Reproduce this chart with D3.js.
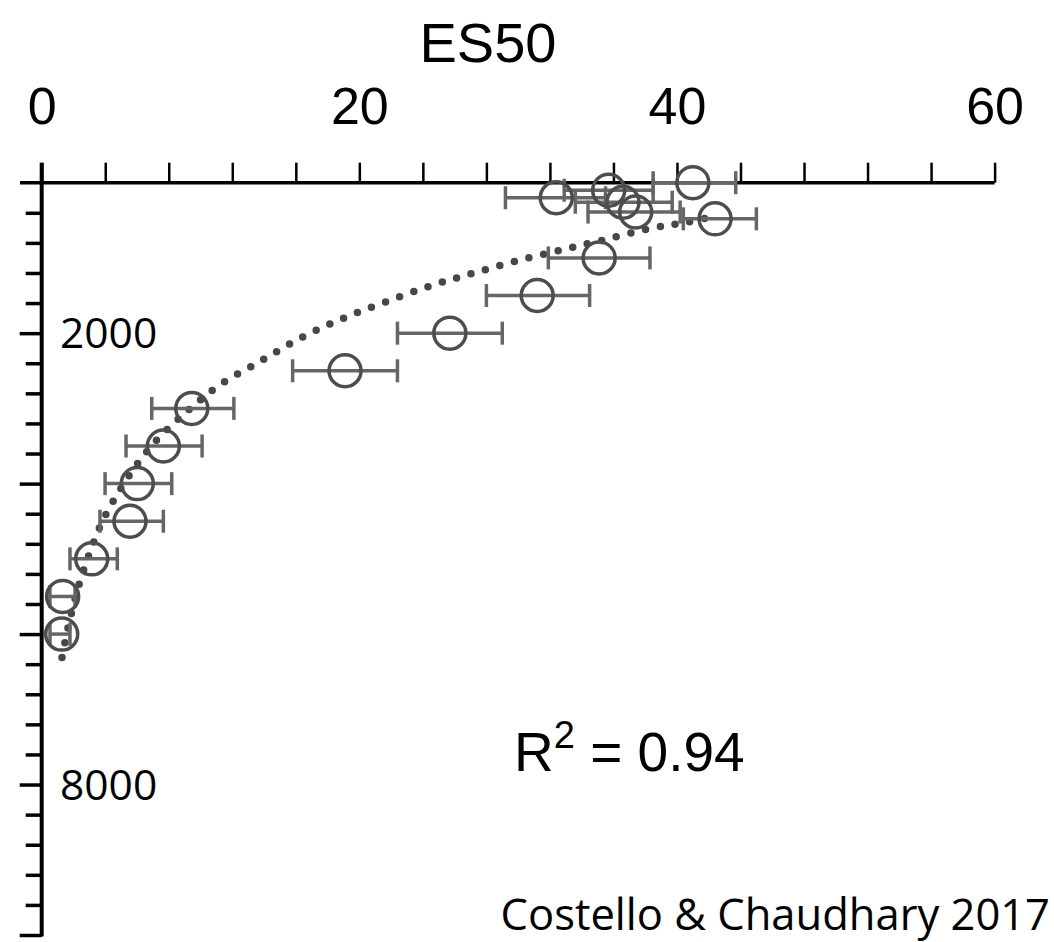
<!DOCTYPE html>
<html lang="en">
<head>
    <meta charset="UTF-8">
    <title>ES50 depth</title>
    <script src="https://d3js.org/d3.v7.min.js"></script>
    <style>
        body { margin: 0; background: #fff; }
    </style>
</head>
<body>
<script>
    const width = 1054
    const height = 942

    // ES50 per depth bin, with error bar ends
    const depth = [0, 100, 200, 260, 390, 480, 1000, 1500, 2000, 2500, 3000, 3500, 4000, 4500, 5000, 5500, 6000]
    const es50 = [41.0, 35.7, 32.4, 36.6, 37.4, 42.4, 35.1, 31.2, 25.7, 19.1, 9.45, 7.66, 6.02, 5.56, 3.15, 1.32, 1.26]
    const es50Low = [38.5, 32.9, 29.2, 33.6, 34.4, 40.4, 31.9, 28.0, 22.4, 15.8, 6.93, 5.31, 3.99, 3.67, 1.78, 0.52, 0.52]
    const es50High = [43.7, 38.5, 35.5, 39.7, 40.2, 45.0, 38.3, 34.5, 29.0, 22.4, 12.1, 10.1, 8.19, 7.66, 4.76, 2.10, 1.78]

    // fitted trend (dotted)
    const fitES50 = [1.28, 1.66, 2.41, 3.04, 3.80, 4.74, 5.88, 7.07, 8.46, 9.59, 11.2, 13.8, 16.3, 18.9, 21.6, 24.5, 27.2, 30.1, 33.0, 35.6, 38.5, 40.4, 42.2]
    const fitDepth = [6310, 5910, 5300, 4910, 4510, 4150, 3780, 3460, 3170, 2960, 2690, 2370, 2065, 1810, 1590, 1370, 1200, 1030, 880, 750, 600, 535, 455]

    const xLabels = [0, 20, 40, 60]
    const yLabels = [2000, 8000]

    var svg = d3.select("body")
        .append("svg")
        .attr("width", width)
        .attr("height", height)

    var xScale = d3.scaleLinear()
        .domain([0, 60])
        .range([41.7, 994.6])
    var yScale = d3.scaleLinear()
        .domain([0, 10000])
        .range([182.7, 935])

    // x axis on top
    var xAxis = d3.axisTop(xScale)
        .tickValues(d3.range(0, 61, 4))
        .tickSize(20)
        .tickPadding(39)
        .tickFormat(d => xLabels.includes(d) ? d : "")
    var gx = svg.append("g")
        .attr("transform", "translate(0," + yScale(0) + ")")
        .call(xAxis)
    gx.select(".domain").remove()
    gx.selectAll("line").attr("stroke", "#000").attr("stroke-width", 2.5)
    gx.selectAll("text")
        .attr("font-family", "Liberation Sans, Arial, sans-serif")
        .attr("font-size", 52)
        .attr("fill", "#000")
    svg.append("line")
        .attr("x1", 20).attr("x2", xScale(60))
        .attr("y1", yScale(0)).attr("y2", yScale(0))
        .attr("stroke", "#000").attr("stroke-width", 3.5)

    svg.append("text")
        .text("ES50")
        .attr("x", 488)
        .attr("y", 62)
        .attr("text-anchor", "middle")
        .attr("font-family", "Liberation Sans, Arial, sans-serif")
        .attr("font-size", 56)

    // y axis on left, depth increasing down
    var yAxis = d3.axisLeft(yScale)
        .tickValues(d3.range(400, 10001, 400))
        .tickSize(16)
        .tickFormat("")
    var gy = svg.append("g")
        .attr("transform", "translate(" + xScale(0) + ",0)")
        .call(yAxis)
    gy.select(".domain").remove()
    gy.selectAll(".tick line")
        .attr("stroke", "#000")
        .attr("stroke-width", 3.5)
        .attr("x2", d => d % 2000 === 0 ? -22 : -16)
    svg.append("line")
        .attr("x1", xScale(0)).attr("x2", xScale(0))
        .attr("y1", yScale(0) - 20).attr("y2", yScale(10000) + 1.5)
        .attr("stroke", "#000").attr("stroke-width", 4)

    svg.selectAll(".ylab")
        .data(yLabels)
        .enter()
        .append("text")
        .attr("class", "ylab")
        .text(d => d)
        .attr("x", 60)
        .attr("y", d => yScale(d))
        .attr("dy", "0.36em")
        .attr("font-family", "Open Sans, sans-serif")
        .attr("font-size", 42.5)

    // dotted trend
    var line = d3.line()
        .x((d, i) => xScale(fitES50[i]))
        .y((d, i) => yScale(fitDepth[i]))
        .curve(d3.curveCatmullRom.alpha(0.5))
    svg.append("path")
        .attr("d", line(fitES50))
        .attr("fill", "none")
        .attr("stroke", "#474747")
        .attr("stroke-width", 7.5)
        .attr("stroke-linecap", "round")
        .attr("stroke-dasharray", "0,15")

    // error bars
    var bars = svg.append("g")
        .attr("stroke", "#666")
        .attr("stroke-width", 3.5)
    bars.selectAll(".bar")
        .data(depth)
        .enter()
        .append("line")
        .attr("x1", (d, i) => xScale(es50Low[i]))
        .attr("x2", (d, i) => xScale(es50High[i]))
        .attr("y1", d => yScale(d))
        .attr("y2", d => yScale(d))
    bars.selectAll(".capl")
        .data(depth)
        .enter()
        .append("line")
        .attr("x1", (d, i) => xScale(es50Low[i]))
        .attr("x2", (d, i) => xScale(es50Low[i]))
        .attr("y1", d => yScale(d) - 11.5)
        .attr("y2", d => yScale(d) + 11.5)
    bars.selectAll(".capr")
        .data(depth)
        .enter()
        .append("line")
        .attr("x1", (d, i) => xScale(es50High[i]))
        .attr("x2", (d, i) => xScale(es50High[i]))
        .attr("y1", d => yScale(d) - 11.5)
        .attr("y2", d => yScale(d) + 11.5)

    svg.append("g")
        .selectAll("circle")
        .data(depth)
        .enter()
        .append("circle")
        .attr("cx", (d, i) => xScale(es50[i]))
        .attr("cy", d => yScale(d))
        .attr("r", 16)
        .attr("fill", "none")
        .attr("stroke", "#4d4d4d")
        .attr("stroke-width", 3.5)

    var r2 = svg.append("text")
        .attr("x", 514)
        .attr("y", 771)
        .attr("font-family", "Liberation Sans, Arial, sans-serif")
        .attr("font-size", 55)
    r2.append("tspan").text("R")
    r2.append("tspan").text("2").attr("font-size", 38).attr("dy", -23)
    r2.append("tspan").text(" = 0.94").attr("dy", 23)

    svg.append("text")
        .text("Costello & Chaudhary 2017")
        .attr("x", 1050)
        .attr("y", 930)
        .attr("text-anchor", "end")
        .attr("font-family", "Open Sans, sans-serif")
        .attr("font-size", 43.5)
</script>
</body>
</html>
